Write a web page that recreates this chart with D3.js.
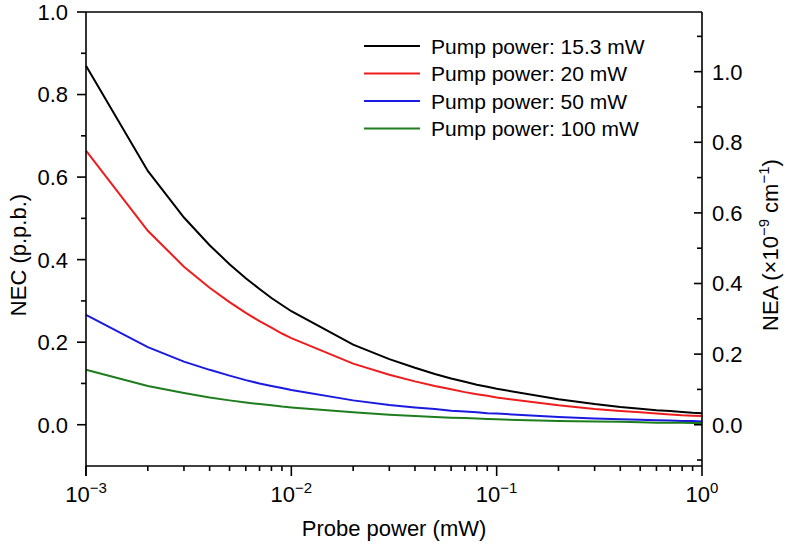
<!DOCTYPE html>
<html>
<head>
<meta charset="utf-8">
<script src="https://cdn.jsdelivr.net/npm/d3@7"></script>
<style>
  body { margin: 0; background: #fff; }
  text { font-family: "Liberation Sans", Arial, sans-serif; fill: #000; }
</style>
</head>
<body>
<svg id="chart" width="788" height="551"></svg>
<script>
// probe power values (mW)
var probePower = [0.001, 0.002, 0.003, 0.004, 0.005, 0.006, 0.007, 0.008, 0.009,
                  0.01, 0.02, 0.03, 0.04, 0.05, 0.06, 0.07, 0.08, 0.09,
                  0.1, 0.2, 0.3, 0.4, 0.5, 0.6, 0.7, 0.8, 0.9, 1.0];

// NEC (p.p.b.) per pump power
var nec153 = [0.870, 0.615, 0.502, 0.435, 0.389, 0.355, 0.329, 0.307, 0.290,
              0.275, 0.194, 0.159, 0.138, 0.123, 0.112, 0.104, 0.097, 0.092,
              0.087, 0.062, 0.050, 0.043, 0.039, 0.035, 0.033, 0.031, 0.029, 0.028];
var nec20 = [0.664, 0.470, 0.383, 0.332, 0.297, 0.271, 0.251, 0.235, 0.221,
             0.210, 0.148, 0.121, 0.105, 0.094, 0.086, 0.079, 0.074, 0.070,
             0.066, 0.047, 0.038, 0.033, 0.030, 0.027, 0.025, 0.023, 0.022, 0.021];
var nec50 = [0.266, 0.188, 0.153, 0.133, 0.119, 0.108, 0.100, 0.094, 0.089,
             0.084, 0.059, 0.048, 0.042, 0.038, 0.034, 0.032, 0.030, 0.028,
             0.027, 0.019, 0.015, 0.013, 0.012, 0.011, 0.010, 0.009, 0.009, 0.008];
var nec100 = [0.133, 0.094, 0.077, 0.066, 0.059, 0.054, 0.050, 0.047, 0.044,
              0.042, 0.030, 0.024, 0.021, 0.019, 0.017, 0.016, 0.015, 0.014,
              0.013, 0.009, 0.008, 0.007, 0.006, 0.005, 0.005, 0.005, 0.004, 0.004];

var seriesNames = ["Pump power: 15.3 mW", "Pump power: 20 mW", "Pump power: 50 mW", "Pump power: 100 mW"];
var seriesColors = ["#000000", "#ee1c1c", "#1a1ae0", "#1e7e1e"];
var seriesValues = [nec153, nec20, nec50, nec100];

var xTickExp = [-3, -2, -1, 0];
var leftTicks = [0.0, 0.2, 0.4, 0.6, 0.8, 1.0];
var rightTicks = [0.0, 0.2, 0.4, 0.6, 0.8, 1.0];

// NEA / NEC conversion factor
var neaFactor = 1.169;

var svg = d3.select("#chart");
var plotL = 86, plotR = 702, plotT = 12, plotB = 466;

var x = d3.scaleLog().domain([0.001, 1]).range([plotL, plotR]);
var y = d3.scaleLinear().domain([-0.1, 1.0]).range([plotB, plotT]);
var y2 = d3.scaleLinear().domain([-0.1 * neaFactor, 1.0 * neaFactor]).range([plotB, plotT]);

// curves
var line = d3.line()
    .x(function (d) { return x(d[0]); })
    .y(function (d) { return y(d[1]); });

seriesValues.forEach(function (vals, i) {
    var pts = probePower.map(function (p, j) { return [p, vals[j]]; });
    svg.append("path")
        .attr("d", line(pts))
        .attr("fill", "none")
        .attr("stroke", seriesColors[i])
        .attr("stroke-width", 2);
});

// frame
var axes = svg.append("g").attr("stroke", "#000").attr("stroke-width", 1.6).attr("fill", "none");
axes.append("line").attr("x1", plotL).attr("x2", plotR).attr("y1", plotT).attr("y2", plotT);
axes.append("line").attr("x1", plotL).attr("x2", plotR).attr("y1", plotB).attr("y2", plotB);
axes.append("line").attr("x1", plotL).attr("x2", plotL).attr("y1", plotT).attr("y2", plotB + 10);
axes.append("line").attr("x1", plotR).attr("x2", plotR).attr("y1", plotT).attr("y2", plotB);

// left ticks (outward)
d3.range(0, 11).forEach(function (k) {
    var v = k / 10;
    var major = k % 2 === 0;
    axes.append("line")
        .attr("x1", plotL - (major ? 9 : 5)).attr("x2", plotL)
        .attr("y1", y(v)).attr("y2", y(v));
});
svg.selectAll(".ylab").data(leftTicks).enter().append("text")
    .attr("x", 68).attr("y", function (d) { return y(d); })
    .attr("dy", "0.36em")
    .attr("text-anchor", "end")
    .attr("font-size", 22)
    .text(function (d) { return d.toFixed(1); });

// right ticks (inward)
d3.range(-1, 12).forEach(function (k) {
    var v = k / 10;
    var major = k % 2 === 0 && k >= 0 && k <= 10;
    axes.append("line")
        .attr("x1", plotR - (major ? 8 : 5)).attr("x2", plotR)
        .attr("y1", y2(v)).attr("y2", y2(v));
});
svg.selectAll(".y2lab").data(rightTicks).enter().append("text")
    .attr("x", 712).attr("y", function (d) { return y2(d); })
    .attr("dy", "0.36em")
    .attr("font-size", 22)
    .text(function (d) { return d.toFixed(1); });

// bottom ticks (outward)
xTickExp.forEach(function (e) {
    axes.append("line")
        .attr("x1", x(Math.pow(10, e))).attr("x2", x(Math.pow(10, e)))
        .attr("y1", plotB).attr("y2", plotB + 10);
    if (e < 0) {
        for (var m = 2; m <= 9; m++) {
            var v = m * Math.pow(10, e);
            axes.append("line")
                .attr("x1", x(v)).attr("x2", x(v))
                .attr("y1", plotB).attr("y2", plotB + 5);
        }
    }
});
xTickExp.forEach(function (e) {
    var t = svg.append("text")
        .attr("x", x(Math.pow(10, e))).attr("y", 502)
        .attr("text-anchor", "middle")
        .attr("font-size", 22);
    t.append("tspan").text("10");
    t.append("tspan").attr("font-size", 15).attr("dy", -9)
        .text(e < 0 ? "\u2212" + (-e) : "" + e);
});

// axis titles
svg.append("text")
    .attr("x", (plotL + plotR) / 2).attr("y", 536)
    .attr("text-anchor", "middle").attr("font-size", 22)
    .text("Probe power (mW)");

svg.append("text")
    .attr("transform", "translate(26," + 255 + ") rotate(-90)")
    .attr("text-anchor", "middle").attr("font-size", 22)
    .text("NEC (p.p.b.)");

var t2 = svg.append("text")
    .attr("transform", "translate(778," + 245 + ") rotate(-90)")
    .attr("text-anchor", "middle").attr("font-size", 22);
t2.append("tspan").text("NEA (\u00d710");
t2.append("tspan").attr("font-size", 15).attr("dy", -9).text("\u22129");
t2.append("tspan").attr("dy", 9).text(" cm");
t2.append("tspan").attr("font-size", 15).attr("dy", -9).text("\u22121");
t2.append("tspan").attr("dy", 9).text(")");

// legend
var legend = svg.append("g");
seriesNames.forEach(function (name, i) {
    var ly = 46 + i * 27.5;
    legend.append("line")
        .attr("x1", 364).attr("x2", 420)
        .attr("y1", ly).attr("y2", ly)
        .attr("stroke", seriesColors[i]).attr("stroke-width", 2);
    legend.append("text")
        .attr("x", 431).attr("y", ly).attr("dy", "0.36em")
        .attr("font-size", 21)
        .text(name);
});
</script>
</body>
</html>
